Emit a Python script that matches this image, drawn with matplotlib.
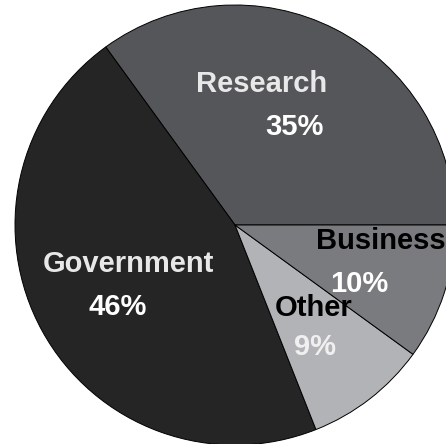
import matplotlib.pyplot as plt

# slice data (counter-clockwise from 3 o'clock)
categories = ['Research', 'Government', 'Other', 'Business']
shares = [35, 46, 9, 10]
colors = ['#555659', '#252525', '#b2b3b6', '#7a7b7e']
name_colors = ['#e8e8e8', '#e8e8e8', 'black', 'black']
pct_colors = ['white', 'white', '#f0f0f0', 'white']

# label positions in pixel coords (x, y from top)
name_pos = [(262, 84), (128, 264), (314, 308), (381, 241)]
pct_pos = [(294, 127), (118, 307), (315, 347), (359, 284)]

W, H = 446, 444
fig = plt.figure(figsize=(W / 100, H / 100), dpi=100)
ax = fig.add_axes([0, 0, 1, 1])

ax.pie(shares, colors=colors, startangle=0, counterclock=True,
       radius=220, center=(235, H - 225), frame=True,
       wedgeprops=dict(edgecolor='black', linewidth=0.7))
ax.set_xlim(0, W)
ax.set_ylim(0, H)
ax.set_aspect('equal')
ax.axis('off')

font = dict(family='Liberation Sans', weight='bold', fontsize=21,
            ha='center', va='center')
for i, cat in enumerate(categories):
    x, y = name_pos[i]
    ax.text(x, H - y, cat, color=name_colors[i], **font)
    x, y = pct_pos[i]
    ax.text(x, H - y, f'{shares[i]}%', color=pct_colors[i], **font)

fig.savefig('out.png', dpi=100)
